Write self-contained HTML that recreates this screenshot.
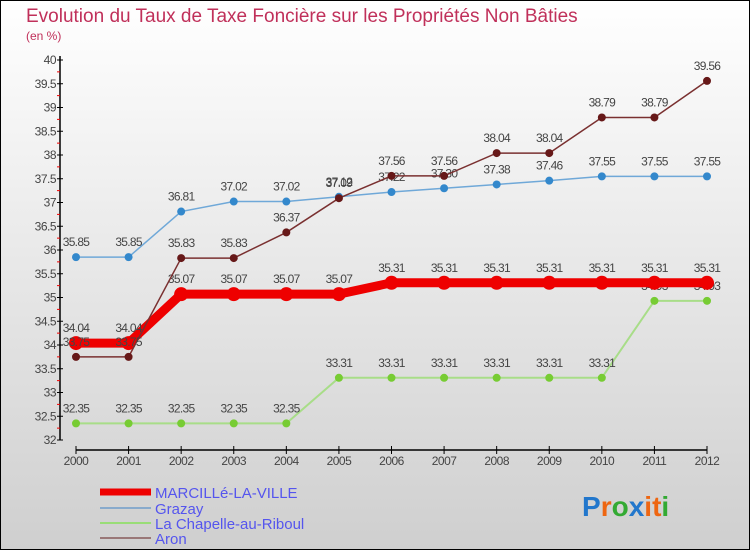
<!DOCTYPE html>
<html><head><meta charset="utf-8"><style>
body{margin:0}
#c{width:750px;height:550px;position:relative;overflow:hidden;font-family:"Liberation Sans",sans-serif}
svg text{font-family:"Liberation Sans",sans-serif}
</style></head><body>
<div id="c">
<svg id="s" width="750" height="550">
<defs><linearGradient id="bg" x1="0" y1="0" x2="0" y2="1"><stop offset="0" stop-color="#ffffff"/><stop offset="1" stop-color="#cfcfcf"/></linearGradient></defs>
<rect x="0.5" y="0.5" width="749" height="549" fill="url(#bg)" stroke="#000"/>
<text x="26" y="22" font-size="19" fill="#c0305a">Evolution du Taux de Taxe Foncière sur les Propriétés Non Bâties</text>
<text x="26" y="40" font-size="12" fill="#c0305a">(en %)</text>
<g id="axes"></g><g id="series"></g>
<g>
<line x1="100" y1="492" x2="151" y2="492" stroke="#ee0000" stroke-width="7"/>
<text x="155" y="498" font-size="15" fill="#5555ee">MARCILLé-LA-VILLE</text>
<line x1="100" y1="508" x2="151" y2="508" stroke="#88aacc" stroke-width="2"/>
<text x="155" y="514" font-size="15" fill="#5555ee">Grazay</text>
<line x1="100" y1="523" x2="151" y2="523" stroke="#99dd77" stroke-width="2"/>
<text x="155" y="529" font-size="15" fill="#5555ee">La Chapelle-au-Riboul</text>
<line x1="100" y1="538" x2="151" y2="538" stroke="#997777" stroke-width="2"/>
<text x="155" y="544" font-size="15" fill="#5555ee">Aron</text>
</g>
<g font-size="28" font-weight="bold">
<text x="582" y="516"><tspan fill="#2277cc">P</tspan><tspan fill="#ee6611">r</tspan><tspan fill="#33aa33">o</tspan><tspan fill="#2277cc">x</tspan><tspan fill="#ee6611">i</tspan><tspan fill="#ee6611">t</tspan><tspan fill="#33aa33">i</tspan></text>
</g>
</svg></div>
<script>
const years=[2000,2001,2002,2003,2004,2005,2006,2007,2008,2009,2010,2011,2012];
const yTicks=[32,32.5,33,33.5,34,34.5,35,35.5,36,36.5,37,37.5,38,38.5,39,39.5,40];
const marcille=[34.04,34.04,35.07,35.07,35.07,35.07,35.31,35.31,35.31,35.31,35.31,35.31,35.31];
const grazay=[35.85,35.85,36.81,37.02,37.02,37.12,37.22,37.3,37.38,37.46,37.55,37.55,37.55];
const chapelle=[32.35,32.35,32.35,32.35,32.35,33.31,33.31,33.31,33.31,33.31,33.31,34.93,34.93];
const aron=[33.75,33.75,35.83,35.83,36.37,37.09,37.56,37.56,38.04,38.04,38.79,38.79,39.56];
const NS="http://www.w3.org/2000/svg";
const X=i=>76+i*(707-76)/12;
const Y=v=>440-(v-32)*47.5;
function mk(tag,attrs,parent,txt){const e=document.createElementNS(NS,tag);for(const k in attrs)e.setAttribute(k,attrs[k]);if(txt!==undefined)e.textContent=txt;parent.appendChild(e);return e;}
const ax=document.getElementById('axes');
let a=mk('line',{x1:60,y1:56,x2:60,y2:440,stroke:'#000','stroke-width':1.5},ax);


let b=mk('line',{x1:76,y1:450,x2:707,y2:450,stroke:'#000','stroke-width':1.5},ax);


yTicks.forEach(v=>{
 const y=Y(v);
 mk('line',{x1:57,y1:y,x2:63,y2:y,stroke:'#000'},ax);
 if(v<40)mk('line',{x1:57,y1:Y(v+0.25),x2:60,y2:Y(v+0.25),stroke:'#e00'},ax);
 const t=mk('text',{x:56,y:y+4,'text-anchor':'end','font-size':12,fill:'#444','letter-spacing':'-0.5'},ax,String(v));
 
 
});
years.forEach((yr,i)=>{
 mk('line',{x1:X(i),y1:446,x2:X(i),y2:454,stroke:'#000'},ax);
 const t=mk('text',{x:X(i),y:465,'text-anchor':'middle','font-size':12,fill:'#444','letter-spacing':'-0.5'},ax,String(yr));
 
 
});
const sg=document.getElementById('series');
function series(vals,name,color,w,r,dot){
 const g=mk('g',{},sg);
 
 
 const l=mk('polyline',{points:vals.map((v,i)=>X(i)+','+Y(v)).join(' '),fill:'none',stroke:color,'stroke-width':w},g);
 
 
 vals.forEach((v,i)=>{
  const c=mk('circle',{cx:X(i),cy:Y(v),r:r,fill:dot},g);
  
  
  const t=mk('text',{x:X(i),y:Y(v)-11,'text-anchor':'middle','font-size':12,fill:'#444','letter-spacing':'-0.7'},g,v.toFixed(2));
  
  
 });
}
series(chapelle,'chapelle','#a8dd88',2,4,'#77cc33');
series(grazay,'grazay','#6fa8d8',1.5,4,'#3388cc');
series(marcille,'marcille','#ee0000',9,7,'#ee0000');
series(aron,'aron','#7a3030',1.5,4,'#661818');
</script>
</body></html>
